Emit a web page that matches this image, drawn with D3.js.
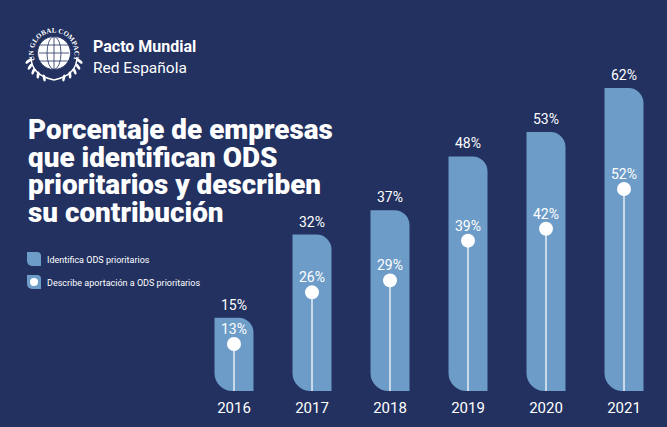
<!DOCTYPE html>
<html><head><meta charset="utf-8">
<script src="https://cdn.jsdelivr.net/npm/d3@7"></script>
<style>
html,body{margin:0;padding:0;background:#22315f;}
svg{display:block;}
</style></head>
<body>
<script>
const years = ["2016","2017","2018","2019","2020","2021"];
const identifica = [15, 32, 37, 48, 53, 62];
const describe = [13, 26, 29, 39, 42, 52];
const titleLines = ["Porcentaje de empresas","que identifican ODS","prioritarios y describen","su contribución"];
const legendLabels = ["Identifica ODS prioritarios","Describe aportación a ODS prioritarios"];

const W = 667, H = 427;
const BG = "#22315f", BAR = "#6d9cc8";
const svg = d3.select("body").append("svg").attr("width", W).attr("height", H);
svg.append("rect").attr("width", W).attr("height", H).attr("fill", BG);

const x = d3.scalePoint().domain(years).range([234, 624]);
const y = d3.scaleLinear().domain([0, 62]).range([391, 88]);
const yDot = d3.scaleLinear().domain([13, 52]).range([344, 189]);
const bw = 39, rTR = 15, rBL = 18;

function barPath(x0, y0, w, y1, rtr, rbl) {
  const p = d3.path();
  p.moveTo(x0, y0);
  p.lineTo(x0 + w - rtr, y0);
  p.arcTo(x0 + w, y0, x0 + w, y0 + rtr, rtr);
  p.lineTo(x0 + w, y1);
  p.lineTo(x0 + rbl, y1);
  p.arcTo(x0, y1, x0, y1 - rbl, rbl);
  p.closePath();
  return p.toString();
}

const data = years.map((yr, i) => ({yr, a: identifica[i], b: describe[i]}));
const g = svg.append("g");
const font = "Roboto, 'DejaVu Sans', sans-serif";

g.selectAll("path.bar").data(data).enter().append("path")
  .attr("class", "bar")
  .attr("d", d => barPath(x(d.yr) - bw / 2, y(d.a), bw, y(0), rTR, rBL))
  .attr("fill", BAR);

g.selectAll("line.stem").data(data).enter().append("line")
  .attr("x1", d => x(d.yr)).attr("x2", d => x(d.yr))
  .attr("y1", d => yDot(d.b)).attr("y2", y(0))
  .attr("stroke", "#e6eef7").attr("stroke-width", 1.5);

g.selectAll("circle.dot").data(data).enter().append("circle")
  .attr("cx", d => x(d.yr)).attr("cy", d => yDot(d.b)).attr("r", 7)
  .attr("fill", "#ffffff");

g.selectAll("text.top").data(data).enter().append("text")
  .attr("x", d => x(d.yr)).attr("y", d => y(d.a) - 8)
  .attr("text-anchor", "middle").attr("fill", "#ffffff")
  .style("font-family", font).style("font-size", "14px")
  .text(d => d.a + "%");

g.selectAll("text.inner").data(data).enter().append("text")
  .attr("x", d => x(d.yr)).attr("y", d => yDot(d.b) - 10)
  .attr("text-anchor", "middle").attr("fill", "#ffffff")
  .style("font-family", font).style("font-size", "14px")
  .text(d => d.b + "%");

g.selectAll("text.year").data(data).enter().append("text")
  .attr("x", d => x(d.yr)).attr("y", 413)
  .attr("text-anchor", "middle").attr("fill", "#ffffff")
  .style("font-family", font).style("font-size", "15px")
  .text(d => d.yr);

// Title
const title = svg.append("text").attr("fill", "#ffffff")
  .style("font-family", font).style("font-weight", "900").style("font-size", "26.5px");
titleLines.forEach((t, i) => {
  title.append("tspan").attr("x", 28).attr("y", 139 + i * 27.5).text(t);
});
title.selectAll("tspan").each(function(d, i) {
  if (i === 0) {
    const len = this.getComputedTextLength();
    if (len > 0) title.style("font-size", (26.5 * 305 / len).toFixed(2) + "px");
  }
});

// Legend
const lg = svg.append("g");
legendLabels.forEach((t, i) => {
  const ly = 252 + i * 23;
  lg.append("path").attr("d", barPath(27, ly, 14, ly + 14, 4, 5)).attr("fill", BAR);
  if (i === 1) lg.append("circle").attr("cx", 34).attr("cy", ly + 7).attr("r", 4).attr("fill", "#fff");
  lg.append("text").attr("x", 47).attr("y", ly + 10.5).attr("fill", "#ffffff")
    .style("font-family", font).style("font-size", "9px").text(t);
});

// Logo
const logo = svg.append("g").attr("transform", "translate(54,53)");
logo.append("circle").attr("r", 16.5).attr("fill", "#ffffff");
const gc = "#22315f";
[-8, 0, 8].forEach(v => logo.append("line").attr("x1", -15).attr("x2", 15).attr("y1", v).attr("y2", v).attr("stroke", gc).attr("stroke-width", 0.8));
logo.append("ellipse").attr("rx", 7).attr("ry", 16.5).attr("fill", "none").attr("stroke", gc).attr("stroke-width", 0.8);
logo.append("line").attr("y1", -16.5).attr("y2", 16.5).attr("stroke", gc).attr("stroke-width", 0.8);
logo.append("circle").attr("r", 16.5).attr("fill", "none").attr("stroke", gc).attr("stroke-width", 0.8);
const defs = svg.append("defs");
const arcP = d3.path();
arcP.arc(54, 53, 20.5, Math.PI * 0.78, Math.PI * 2.22);
defs.append("path").attr("id", "arcText").attr("d", arcP.toString());
svg.append("text").attr("fill", "#fff").style("font-family", "'Liberation Serif', serif")
  .style("font-size", "7px").style("font-weight", "700")
  .append("textPath").attr("href", "#arcText").attr("startOffset", "50%").attr("text-anchor", "middle")
  .text("UN GLOBAL COMPACT");
// laurels
[-1, 1].forEach(s => {
  const lp = d3.path();
  lp.moveTo(s * 23, 4); lp.quadraticCurveTo(s * 23, 22, 0, 27);
  logo.append("path").attr("d", lp.toString()).attr("fill", "none").attr("stroke", "#fff").attr("stroke-width", 1.5);
  for (let k = 0; k < 5; k++) {
    const t = 0.12 + k * 0.18;
    const px = s * (2 * (1 - t) * t * 23 + (1 - t) * (1 - t) * 23), py = 4 * (1 - t) * (1 - t) + 2 * (1 - t) * t * 22 + t * t * 27;
    logo.append("ellipse").attr("cx", px + s * 3).attr("cy", py).attr("rx", 3.5).attr("ry", 1.4)
      .attr("transform", `rotate(${s * (40 + k * 15)},${px + s * 3},${py})`).attr("fill", "#fff");
  }
});
svg.append("text").attr("x", 93).attr("y", 52).attr("fill", "#fff")
  .style("font-family", font).style("font-weight", "700").style("font-size", "16px").text("Pacto Mundial");
svg.append("text").attr("x", 93).attr("y", 73).attr("fill", "#fff")
  .style("font-family", font).style("font-size", "15.5px").text("Red Española");
</script>
</body></html>
